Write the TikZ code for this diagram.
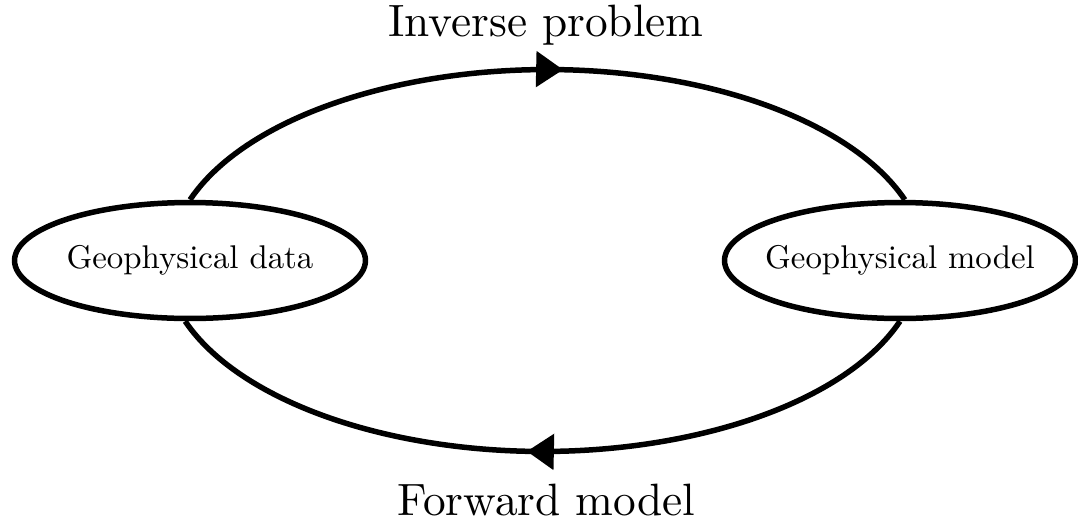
\documentclass[tikz,border=0pt]{standalone}
\usepackage{fontspec}
\setmainfont{lmroman10-regular}[Extension=.otf]
\usetikzlibrary{shapes.geometric,arrows.meta,decorations.markings}
\begin{document}
\begin{tikzpicture}[x=0.02cm,y=-0.02cm,
  thick line/.style={line width=0.11cm},
  statebox/.style={ellipse,draw,thick line,minimum width=7.02cm,minimum height=2.32cm,
    inner xsep=-0.3cm,inner ysep=0pt,font=\fontsize{18.7}{22}\selectfont},
  caption/.style={font=\fontsize{25.8}{30}\selectfont,inner sep=0pt,anchor=base},
  mid arrow/.style={postaction={decorate},decoration={markings,
    mark=at position #1 with {\arrow{Triangle[length=0.54cm,width=0.7cm]}}}}]
\useasboundingbox (0,0) rectangle (1078,525);
% the two states linked by the cycle
\node[statebox] (data) at (190,260.5) {Geophysical data};
\node[statebox] (model) at (900,260.5) {Geophysical model};
% inverse direction along the top, forward direction along the bottom
\draw[thick line,mid arrow=0.52] (data.north)
  arc[start angle=161,end angle=19,x radius=378,y radius=-193];
\draw[thick line,mid arrow=0.52] (model.south)
  arc[start angle=-19,end angle=-161,x radius=378,y radius=-193];
\node[caption] (inv) at (546,36) {Inverse problem};
\node[caption] (fwd) at (546.5,515) {Forward model};
\end{tikzpicture}
\end{document}
